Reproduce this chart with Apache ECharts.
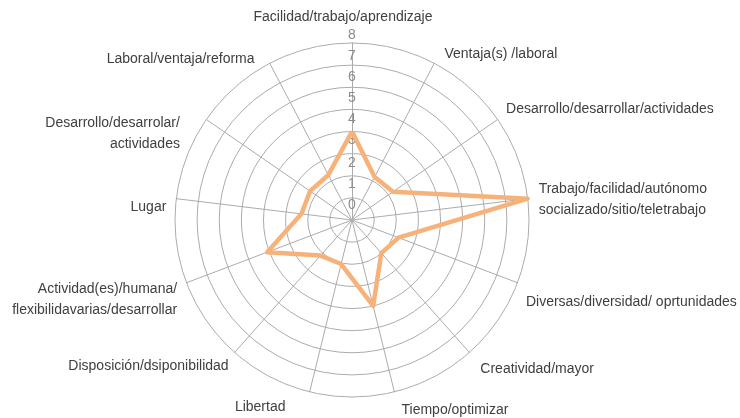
<!DOCTYPE html>
<html>
<head>
<meta charset="utf-8">
<script src="https://cdn.jsdelivr.net/npm/echarts@6/dist/echarts.min.js"></script>
<style>
  html, body { margin: 0; padding: 0; background: #fff; }
  #chart { width: 740px; height: 418px; }
</style>
</head>
<body>
<div id="chart"></div>
<script>
"use strict";

/* ---------- data (clockwise from the top) ---------- */
const categories = [
    "Facilidad/trabajo/aprendizaje",
    "Ventaja(s) /laboral",
    "Desarrollo/desarrollar/actividades",
    "Trabajo/facilidad/autónomo\nsocializado/sitio/teletrabajo",
    "Diversas/diversidad/ oprtunidades",
    "Creatividad/mayor",
    "Tiempo/optimizar",
    "Libertad",
    "Disposición/dsiponibilidad",
    "Actividad(es)/humana/\nflexibilidavarias/desarrollar",
    "Lugar",
    "Desarrollo/desarrolar/\nactividades",
    "Laboral/ventaja/reforma"
];
const values = [4, 2.2, 2.25, 8, 2.25, 2, 4, 2.05, 2.15, 4.1, 2.3, 2.3, 2.3];
const axisMax = 8;

/* ---------- layout: nudge of each axis name [dx, dy] in px ---------- */
const nameShift = [[-9, 0], [6, -1], [1, -5], [2, 2], [0, 16], [5, 10], [5, 10],
    [-22, 7], [0, 7], [-1, 14], [-1, 10], [-19, 19], [-11, 4]];

/* ---------- style ---------- */
const FONT = '"Liberation Sans", Arial, sans-serif';
const C = { line: "#F7B27A", grid: "#ababab", text: "#404040", muted: "#8c8c8c" };
const NAME = { color: C.text, fontSize: 14, fontFamily: FONT, lineHeight: 21 };
const TICK = { color: C.muted, fontSize: 14, fontFamily: FONT };

// ECharts radar runs counter-clockwise: keep item 0 on top, reverse the rest
const order = [0].concat(categories.map((_, i) => i).slice(1).reverse());

// rich styles: padding moves a name sideways, an empty spacer line moves it up/down
const rich = {};
categories.forEach((_, k) => {
    const [dx, dy] = nameShift[k];
    let padL = 0, padR = 0;
    if (k === 0) padR = Math.max(0, -2 * dx);          // centred name
    else if (k <= 6) padL = Math.max(0, dx);           // right half, left aligned
    else padR = Math.max(0, -dx);                      // left half, right aligned
    rich["n" + k] = Object.assign({ padding: [0, padR, 0, padL] }, NAME);
    rich["s" + k] = { fontSize: 1, lineHeight: Math.max(1, 2 * Math.abs(dy)) };
});

function nameText(name) {
    const k = categories.indexOf(name);
    const dy = nameShift[k][1];
    const lines = name.split("\n").map(l => `{n${k}|${l}}`);
    if (k !== 0 && dy > 0) lines.unshift(`{s${k}| }`);
    if (k !== 0 && dy < 0) lines.push(`{s${k}| }`);
    return lines.join("\n");
}

// scale labels sit a little higher the nearer they are to the centre
const tickRich = {};
for (let v = 0; v <= axisMax; v++) {
    tickRich["t" + v] = Object.assign({ padding: [0, 0, Math.round((axisMax - v) * 0.9), 0] }, TICK);
}

const chart = echarts.init(document.getElementById("chart"));

chart.setOption({
    animation: false,
    textStyle: { fontFamily: FONT },
    radar: {
        shape: "circle",
        center: [352, 220],
        radius: 177,
        startAngle: 90,
        splitNumber: 8,
        nameGap: 9,
        axisName: Object.assign({ formatter: nameText, rich: rich }, NAME),
        axisLine: { lineStyle: { color: C.grid, width: 1 } },
        splitLine: { lineStyle: { color: C.grid, width: 1 } },
        splitArea: { show: false },
        axisTick: { show: false },
        axisLabel: { show: false },
        // only the top axis carries the 0..8 scale
        indicator: order.map(i => ({
            name: categories[i], min: 0, max: axisMax,
            axisLabel: i === 0 ? Object.assign({
                show: true, margin: 0, align: "center", verticalAlign: "bottom",
                padding: [0, 0, 1, 0], rich: tickRich,
                formatter: v => `{t${v}|${v}}`
            }, TICK) : { show: false }
        }))
    },
    series: [{
        type: "radar",
        symbol: "none",
        lineStyle: { color: C.line, width: 4.5 },
        data: [{ value: order.map(i => values[i]) }]
    }]
});
</script>
</body>
</html>
